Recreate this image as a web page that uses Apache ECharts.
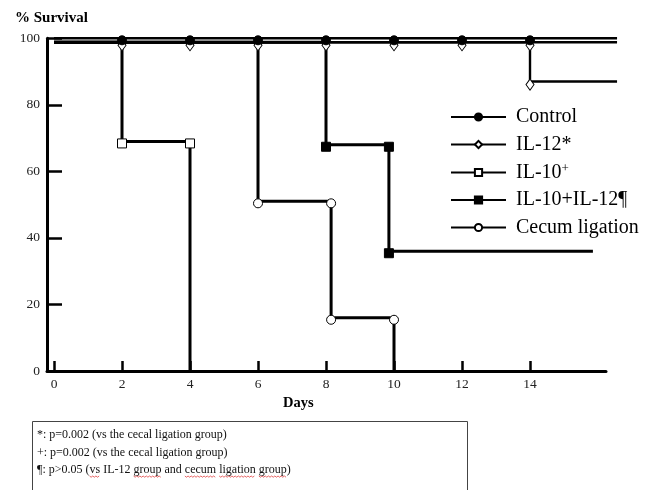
<!DOCTYPE html>
<html><head><meta charset="utf-8">
<script src="https://cdn.jsdelivr.net/npm/echarts@6/dist/echarts.min.js"></script>
<style>html,body{margin:0;padding:0;background:#fff}#c{width:653px;height:490px}</style>
</head><body><div id="c"></div>
<script>
// ---- data ----
const legendNames = ['Control', 'IL-12*', 'IL-10+', 'IL-10+IL-12¶', 'Cecum ligation'];
const xTicks = [0, 2, 4, 6, 8, 10, 12, 14];
const yTicks = [0, 20, 40, 60, 80, 100];

// Kaplan-Meier step curves: [day, % survival]; marks = 1 where a symbol is drawn
const controlPts   = [[0,100],[2,100],[4,100],[6,100],[8,100],[10,100],[12,100],[14,100],[16.56,100]];
const controlMarks = [0,1,1,1,1,1,1,1,0];
const lowerTracePts = [[0,98.8],[16.56,98.8]];
const il12Pts   = [[0,98.8],[2,98.8],[4,98.8],[6,98.8],[8,98.8],[10,98.8],[12,98.8],[14,98.8],[14,87],[16.56,87]];
const il12Marks = [0,1,1,1,1,1,1,1,1,0];
const il10Pts   = [[0,98.8],[2,98.8],[2,69],[4,69],[4,0]];
const il10Marks = [0,0,1,1,0];
const comboPts   = [[0,98.8],[8,98.8],[8,68],[9.85,68],[9.85,36],[15.85,36]];
const comboMarks = [0,0,1,1,1,0];
const cecumPts   = [[0,98.8],[6,98.8],[6,51],[8.15,51],[8.15,16],[10,16],[10,0]];
const cecumMarks = [0,0,1,1,1,1,0];

const footnotes = [
  '*: p=0.002 (vs the cecal ligation group)',
  '+: p=0.002 (vs the cecal ligation group)',
  '¶: p>0.05 (vs IL-12 group and cecum ligation group)'
];
const spellWords = ['vs', 'group', 'cecum', 'ligation', 'group'];

// ---- chart ----
const FONT = 'Liberation Serif';
const X_MIN = -0.206, X_AXIS_MAX = 16.235, X_PLOT_MAX = 16.56;

function items(pts, marks) {
  return pts.map((p, i) => marks[i] ? p : { value: p, symbol: 'none' });
}
function mk(name, pts, marks, symbol, size, fill, offset, lw) {
  return {
    name, type: 'line', data: items(pts, marks),
    xAxisIndex: 1, yAxisIndex: 1,
    symbol, symbolSize: size, symbolOffset: offset, showSymbol: true,
    clip: false, animation: false, silent: true,
    lineStyle: { color: '#000', width: lw || 3 },
    itemStyle: { color: fill, borderColor: '#000', borderWidth: 1 },
    emphasis: { disabled: true }
  };
}

const series = [
  mk('lower trace', lowerTracePts, lowerTracePts.map(() => 0), 'none', 1, '#000', [0,0], 2.4),
  mk('IL-10+', il10Pts, il10Marks, 'rect', 9, '#fff', [0,2]),
  mk('IL-10+IL-12¶', comboPts, comboMarks, 'rect', 9, '#000', [0,2]),
  mk('Cecum ligation', cecumPts, cecumMarks, 'circle', 9, '#fff', [0,2]),
  mk('IL-12*', il12Pts, il12Marks, 'diamond', [8, 11], '#fff', [0,3], 2.4),
  mk('Control', controlPts, controlMarks, 'circle', 9, '#000', [0,2], 2.4)
];

// wavy spell-check underlines for footnote line 3
const cv = document.createElement('canvas').getContext('2d');
const fnFont = '12px "' + FONT + '"';
cv.font = fnFont;
const wavy = [];
(function () {
  const t = footnotes[2];
  let from = 0;
  spellWords.forEach(w => {
    const idx = t.indexOf(w, from);
    from = idx + w.length;
    const x0 = 37 + cv.measureText(t.slice(0, idx)).width;
    const wd = cv.measureText(w).width;
    const pts = [];
    for (let k = 0; k * 1.6 <= wd; k++) pts.push([x0 + k * 1.6, 476 + (k % 2 ? 1.2 : 0)]);
    wavy.push({ type: 'polyline', shape: { points: pts }, style: { stroke: '#e04040', lineWidth: 0.8, fill: null }, silent: true });
  });
})();

// same px-per-day in both grids: axis grid ends at 606, plot grid at 617
const W = 653, LEFT = 47, AXIS_RIGHT = 47;
const pxPerDay = (W - LEFT - AXIS_RIGHT) / (X_AXIS_MAX - X_MIN);
const PLOT_RIGHT = W - LEFT - pxPerDay * (X_PLOT_MAX - X_MIN);

const chart = echarts.init(document.getElementById('c'), null, { renderer: 'canvas' });
chart.setOption({
  backgroundColor: '#fff',
  animation: false,
  title: [
    { text: '% Survival', left: 15, top: 11, padding: 0,
      textStyle: { fontFamily: FONT, fontWeight: 'bold', fontSize: 15, color: '#000' } },
    { text: 'Days', left: 283, top: 396, padding: 0,
      textStyle: { fontFamily: FONT, fontWeight: 'bold', fontSize: 14.5, color: '#000' } }
  ],
  grid: [
    { left: LEFT, right: AXIS_RIGHT, top: 38.3, bottom: 119, containLabel: false, outerBoundsMode: 'none' },
    { left: LEFT, right: PLOT_RIGHT, top: 38.3, bottom: 119, containLabel: false, outerBoundsMode: 'none' }
  ],
  xAxis: [{
    type: 'value', gridIndex: 0, min: X_MIN, max: X_AXIS_MAX,
    axisLine: { show: true, onZero: false, lineStyle: { color: '#000', width: 3 } },
    axisTick: { show: true, inside: true, length: 10, customValues: xTicks, lineStyle: { color: '#000', width: 2.5 } },
    axisLabel: { customValues: xTicks, fontFamily: FONT, fontSize: 13.5, color: '#222', margin: 6 },
    splitLine: { show: false }
  }, {
    type: 'value', gridIndex: 1, min: X_MIN, max: X_PLOT_MAX, show: false, splitLine: { show: false }
  }],
  yAxis: [{
    type: 'value', gridIndex: 0, min: 0, max: 100, interval: 20,
    axisLine: { show: true, onZero: false, lineStyle: { color: '#000', width: 3 } },
    axisTick: { show: true, inside: true, length: 15, lineStyle: { color: '#000', width: 2.5 } },
    axisLabel: { fontFamily: FONT, fontSize: 13.5, color: '#222', margin: 7 },
    splitLine: { show: false }
  }, {
    type: 'value', gridIndex: 1, min: 0, max: 100, show: false, splitLine: { show: false }
  }],
  legend: {
    orient: 'vertical', left: 450, top: 107, padding: 0,
    itemWidth: 55, itemHeight: 9, itemGap: 7.5,
    selectedMode: false,
    data: legendNames,
    formatter: n => n === 'IL-10+' ? '{b|IL-10}{s|+}' : n,
    textStyle: {
      fontFamily: FONT, fontSize: 20, color: '#000', padding: [0, 0, 0, 5],
      rich: {
        b: { fontFamily: FONT, fontSize: 20, color: '#000' },
        s: { fontFamily: FONT, fontSize: 13, color: '#000', verticalAlign: 'top', padding: [0, 0, 8, 0] }
      }
    }
  },
  graphic: [
    { type: 'rect', shape: { x: 32.5, y: 421.5, width: 435, height: 80 },
      style: { fill: 'none', stroke: '#444', lineWidth: 1 }, silent: true },
    ...footnotes.map((t, i) => ({
      type: 'text', x: 37, y: 435 + i * 17.5, silent: true,
      style: { text: t, font: fnFont, fill: '#111', verticalAlign: 'middle' }
    })),
    ...wavy
  ],
  series
});
</script>
</body></html>
